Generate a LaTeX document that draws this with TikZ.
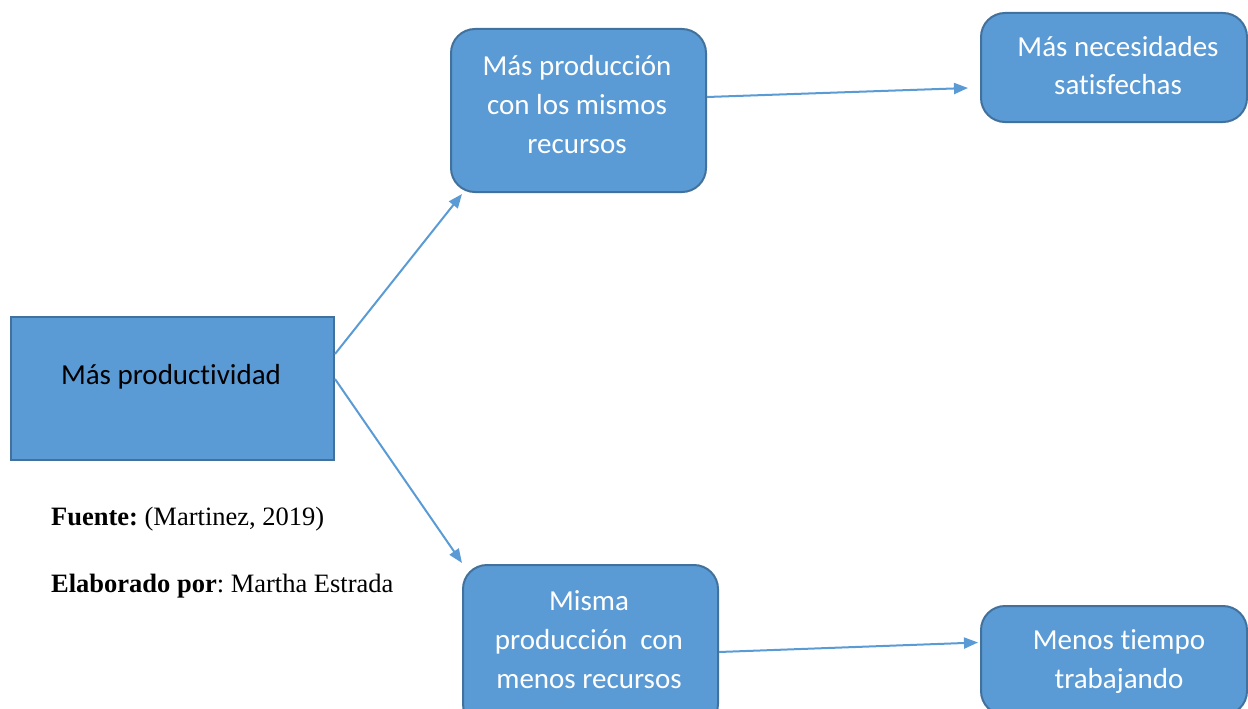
\documentclass[tikz,border=0pt]{standalone}
\usepackage{fontspec}
\setmainfont{Liberation Serif}
\newfontfamily\calibri[Ligatures={NoCommon}]{Carlito}
\usetikzlibrary{arrows.meta}
\definecolor{boxfill}{HTML}{5B9BD5}
\definecolor{boxline}{HTML}{41719C}
\definecolor{arrowc}{HTML}{5B9BD5}
\frenchspacing
\begin{document}
\begin{tikzpicture}[x=1pt,y=-1pt,
  box/.style={draw=boxline, line width=2pt, fill=boxfill, inner sep=0pt, anchor=north west},
  rbox/.style={box, rounded corners=24pt},
  txt/.style={font=\calibri\fontsize{29}{39}\selectfont, align=center, text=white, inner sep=0pt, anchor=base},
  src/.style={font=\fontsize{26.5}{32}\selectfont, inner sep=0pt, anchor=base west},
  conn/.style={draw=arrowc, line width=2pt, -{Triangle[length=14pt,width=11pt]}},
]
\useasboundingbox (0,0) rectangle (1248,709);
\clip (0,0) rectangle (1248,709);

\node[box, minimum width=323pt, minimum height=143pt] (a) at (10,316) {};
\node[rbox, minimum width=255pt, minimum height=163pt] (b) at (450,28) {};
\node[rbox, minimum width=266pt, minimum height=109pt] (c) at (980,12) {};
\node[rbox, minimum width=255pt, minimum height=163pt] (d) at (462,564) {};
\node[rbox, minimum width=266pt, minimum height=109pt] (e) at (980,605) {};

\node[txt, text=black] (ta) at (171,384) {Más productividad};
\node[txt] (tb) at (577,153) {Más producción\\con los mismos\\recursos};
\node[txt] (tc) at (1118,95) {Más necesidades\\satisfechas};
\node[txt] (td) at (589,688) {Misma\\producción\ \ con\\menos recursos};
\node[txt] (te) at (1119,688) {Menos tiempo\\trabajando};

\node[src] (fuente) at (51,525) {\textbf{Fuente:} (Martinez, 2019)};
\node[src] (elab) at (51,592) {\textbf{Elaborado por}: Martha Estrada};

\draw[conn] ([yshift=34.5pt]a.east) -- ([xshift=12pt,yshift=-1pt]b.south west);
\draw[conn] ([yshift=9.5pt]a.east) -- ([yshift=1pt]d.north west);
\draw[conn] ([yshift=13.5pt]b.east) -- ([xshift=-12pt,yshift=-20.5pt]c.west);
\draw[conn] ([yshift=-5.5pt]d.east) -- ([xshift=-2pt,yshift=18pt]e.west);
\end{tikzpicture}
\end{document}
